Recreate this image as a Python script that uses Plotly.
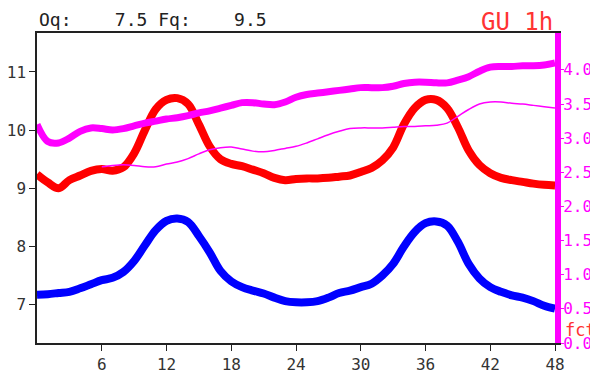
import plotly.graph_objects as go

hours = list(range(0, 49))
thin_hours = list(range(6, 49))

red_vals = [9.24, 9.10, 9.00, 9.14, 9.22, 9.30, 9.33, 9.30, 9.36, 9.60,
            10.00, 10.36, 10.52, 10.55, 10.45, 10.10, 9.72, 9.50, 9.42, 9.38,
            9.32, 9.26, 9.18, 9.14, 9.16, 9.17, 9.17, 9.18, 9.20, 9.22,
            9.28, 9.35, 9.48, 9.70, 10.10, 10.38, 10.52, 10.52, 10.38, 10.05,
            9.65, 9.40, 9.26, 9.18, 9.14, 9.11, 9.08, 9.06, 9.05]

blue_vals = [7.17, 7.18, 7.20, 7.22, 7.28, 7.35, 7.42, 7.46, 7.56, 7.75,
             8.02, 8.28, 8.44, 8.48, 8.42, 8.18, 7.90, 7.58, 7.40, 7.30,
             7.24, 7.19, 7.12, 7.06, 7.04, 7.04, 7.06, 7.12, 7.20, 7.24,
             7.30, 7.36, 7.50, 7.70, 8.00, 8.25, 8.40, 8.43, 8.36, 8.08,
             7.70, 7.45, 7.30, 7.22, 7.16, 7.12, 7.06, 6.98, 6.93]

mag_thick_vals = [3.20, 2.95, 2.93, 3.00, 3.10, 3.15, 3.14, 3.12, 3.14, 3.18,
                  3.22, 3.25, 3.28, 3.30, 3.33, 3.37, 3.40, 3.44, 3.48, 3.52,
                  3.52, 3.50, 3.49, 3.53, 3.60, 3.64, 3.66, 3.68, 3.70, 3.72,
                  3.74, 3.74, 3.74, 3.76, 3.80, 3.82, 3.82, 3.81, 3.81, 3.85,
                  3.90, 3.98, 4.04, 4.05, 4.05, 4.06, 4.06, 4.07, 4.10]

mag_thin_vals = [2.58, 2.60, 2.61, 2.60,
                 2.58, 2.58, 2.62, 2.65, 2.70, 2.77, 2.83, 2.86, 2.87, 2.84,
                 2.81, 2.80, 2.82, 2.85, 2.88, 2.93, 2.99, 3.05, 3.10, 3.14,
                 3.15, 3.15, 3.15, 3.16, 3.17, 3.17, 3.18, 3.19, 3.22, 3.32,
                 3.42, 3.50, 3.53, 3.53, 3.51, 3.50, 3.48, 3.46, 3.44]

x_ticks = [6, 12, 18, 24, 30, 36, 42, 48]
left_ticks = [7, 8, 9, 10, 11]
right_ticks = [0.0, 0.5, 1.0, 1.5, 2.0, 2.5, 3.0, 3.5, 4.0]

MONO = "DejaVu Sans Mono"
MAG = "#ff00ff"

fig = go.Figure()
fig.add_trace(go.Scatter(x=thin_hours, y=mag_thin_vals, yaxis="y2", mode="lines",
                         line=dict(color=MAG, width=1.5, shape="spline"),
                         showlegend=False))
fig.add_trace(go.Scatter(x=hours, y=red_vals, mode="lines",
                         line=dict(color="#ff0000", width=8, shape="spline"),
                         showlegend=False))
fig.add_trace(go.Scatter(x=hours, y=blue_vals, mode="lines",
                         line=dict(color="#0000ff", width=8, shape="spline"),
                         showlegend=False))
fig.add_trace(go.Scatter(x=hours, y=mag_thick_vals, yaxis="y2", mode="lines",
                         line=dict(color=MAG, width=7, shape="spline"),
                         showlegend=False))

# page body has an 8px default margin, so the figure is shifted by 8px
fig.update_layout(
    width=590, height=367,
    margin=dict(l=29, r=43, t=25, b=32, autoexpand=False),
    paper_bgcolor="white", plot_bgcolor="white",
    xaxis=dict(range=[0, 48], tickvals=x_ticks, ticktext=[str(v) for v in x_ticks],
               automargin=False,
               showgrid=False, zeroline=False, showline=True, linecolor="#222",
               linewidth=1.5, mirror=True, ticks="outside", ticklen=6,
               tickcolor="#222", tickfont=dict(family=MONO, size=16, color="#333")),
    yaxis=dict(range=[6.34, 11.67], tickvals=left_ticks, automargin=False,
               showgrid=False, zeroline=False, showline=True, linecolor="#222",
               linewidth=1.5, ticks="outside", ticklen=6, tickcolor="#222",
               tickfont=dict(family=MONO, size=16, color="#333")),
    yaxis2=dict(range=[0, 4.54], overlaying="y", side="right", tickvals=right_ticks,
                ticktext=[f"{v:.1f}" for v in right_ticks], automargin=False,
                showgrid=False, zeroline=False, showline=True, linecolor=MAG,
                linewidth=6, ticks="outside", ticklen=3, tickcolor=MAG,
                ticklabelstandoff=-4,
                tickfont=dict(family=MONO, size=16, color=MAG)),
    annotations=[
        dict(text="Oq:    7.5 Fq:    9.5", xref="paper", yref="paper", x=0, y=1,
             xanchor="left", yanchor="middle", yshift=14, showarrow=False,
             font=dict(family=MONO, size=18, color="#222")),
        dict(text="GU 1h", xref="paper", yref="paper", x=1, y=1,
             xanchor="right", yanchor="middle", yshift=11, showarrow=False,
             font=dict(family=MONO, size=24, color="#ff3333")),
        dict(text="fct", xref="paper", yref="paper", x=1, y=0,
             xanchor="left", yanchor="middle", xshift=8, yshift=13, showarrow=False,
             font=dict(family=MONO, size=17, color="#ff3333")),
    ],
)

fig.write_html("out.html")
